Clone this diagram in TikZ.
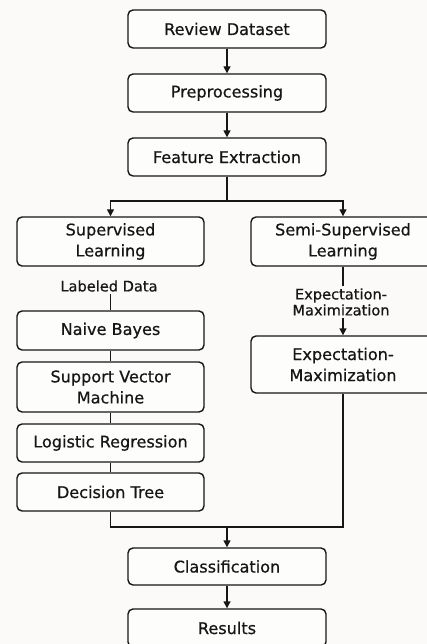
\documentclass[tikz,border=0pt]{standalone}
\usepackage{fontspec}
\setmainfont{DejaVu Sans}[FakeBold=0.6]
\usetikzlibrary{arrows.meta}
\definecolor{bgc}{RGB}{251,250,248}
\definecolor{ink}{RGB}{22,22,22}
\begin{document}
\begin{tikzpicture}[x=1pt,y=-1pt,
  box/.style={draw=ink, line width=1.4pt, rounded corners=5pt, fill=white!60!bgc, text=ink,
    align=center, inner sep=0pt, font=\fontsize{16.1}{21}\selectfont},
  lbl/.style={text=ink, align=center, inner sep=2pt, font=\fontsize{14.6}{16}\selectfont},
  conn/.style={draw=ink, line width=1.4pt},
  arr/.style={conn, -{Triangle[length=7pt,width=7pt]}}]
\fill[bgc] (0,0) rectangle (427,644);
\useasboundingbox (0,0) rectangle (427,644);
\begin{scope}
\clip (0,0) rectangle (427,644);
\node[box, minimum width=198, minimum height=38] (rd) at (227,29) {Review Dataset};
\node[box, minimum width=198, minimum height=38] (pre) at (227,93) {Preprocessing};
\node[box, minimum width=198, minimum height=38] (fe) at (227,157) {Feature Extraction};
\node[box, minimum width=187, minimum height=49] (sup) at (110.5,241.5) {Supervised\\Learning};
\node[box, minimum width=184, minimum height=49] (semi) at (343,241.5) {Semi-Supervised\\Learning};
\node[lbl] (lab) at (109,286) {Labeled Data};
\node[box, minimum width=187, minimum height=39] (nb) at (110.5,330.5) {Naive Bayes};
\node[box, minimum width=187, minimum height=50] (svm) at (110.5,387) {Support Vector\\Machine};
\node[box, minimum width=187, minimum height=38] (lr) at (110.5,443) {Logistic Regression};
\node[box, minimum width=187, minimum height=38] (dt) at (110.5,492) {Decision Tree};
\node[lbl] (eml) at (341,302) {Expectation-\\Maximization};
\node[box, minimum width=184, minimum height=57] (em) at (343,364.5) {Expectation-\\Maximization};
\node[box, minimum width=198, minimum height=37] (cls) at (227,566.5) {Classification};
\node[box, minimum width=198, minimum height=38] (res) at (227,628) {Results};
\coordinate (j1) at (227,201);
\coordinate (j2) at (227,527);
\draw[arr] (rd) -- (pre);
\draw[arr] (pre) -- (fe);
\draw[conn] (fe) -- (j1);
\draw[arr] (j1) -| (sup.north);
\draw[arr] (j1) -| (semi.north);
\draw[conn] (lab.south -| nb.north) -- (nb.north);
\draw[conn] (nb) -- (svm);
\draw[conn] (svm) -- (lr);
\draw[conn] (lr) -- (dt);
\draw[conn] (semi.south) -- (semi.south |- eml.north);
\draw[arr] (em.north |- eml.south) -- (em.north);
\draw[conn] (dt.south) |- (j2) -| (em.south);
\draw[arr] (j2) -- (cls);
\draw[arr] (cls) -- (res);
\end{scope}
\end{tikzpicture}
\end{document}
